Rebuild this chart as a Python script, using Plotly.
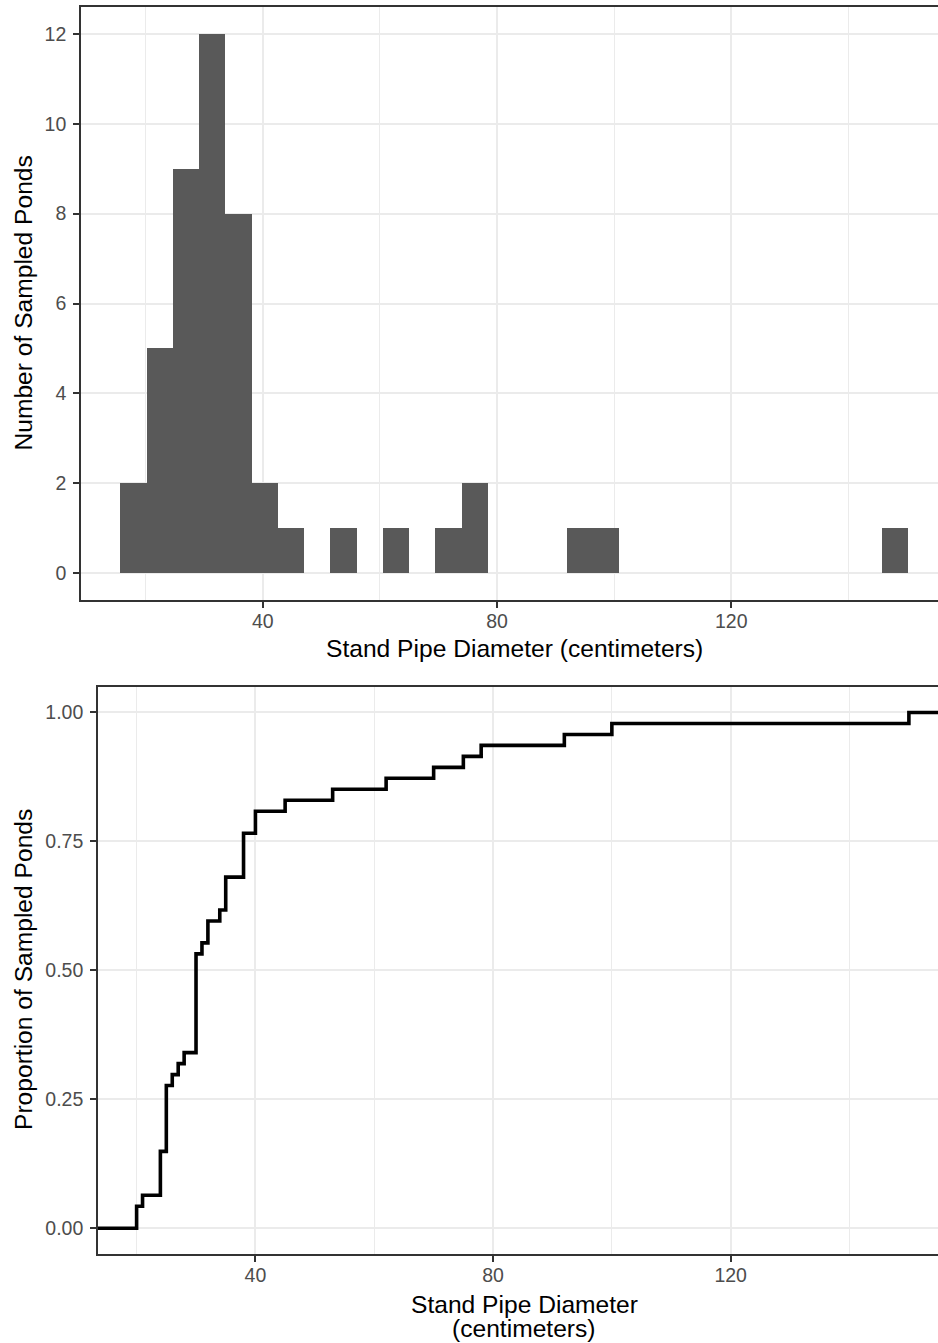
import numpy as np
import plotly.graph_objects as go

# ---- data (stand pipe diameters, cm) ----
diameters = [20, 20, 21, 24, 24, 24, 24,
             25, 25, 25, 25, 25, 25, 26, 27, 28,
             30, 30, 30, 30, 30, 30, 30, 30, 30, 31, 32, 32,
             34, 35, 35, 35, 38, 38, 38, 38, 40, 40,
             45, 53, 62, 70, 75, 78, 92, 100, 150]

hist_xticks = [40, 80, 120]
hist_yticks = [0, 2, 4, 6, 8, 10, 12]
ecdf_xticks = [40, 80, 120]
ecdf_yticks = [0, 0.25, 0.5, 0.75, 1.0]
ecdf_yticktext = ["0.00", "0.25", "0.50", "0.75", "1.00"]
minor_x = [20, 60, 100, 140]

x_title = "Stand Pipe Diameter (centimeters)"
hist_ytitle = "Number of Sampled Ponds"
ecdf_ytitle = "Proportion of Sampled Ponds"

# ---- ggplot-like binning (bins = 30) ----
vals = np.array(diameters, dtype=float)
n_bins = 30
bw = (vals.max() - vals.min()) / (n_bins - 1)
boundary = bw / 2
start = boundary + np.floor((vals.min() - boundary) / bw) * bw
end = start + np.ceil((vals.max() - start) / bw) * bw

# ---- ECDF ----
ux, counts = np.unique(vals, return_counts=True)
cum = np.cumsum(counts) / len(vals)
X1_RANGE = [8.97, 155.3]
X2_RANGE = [13.5, 154.9]
ex = [X2_RANGE[0]] + list(ux) + [X2_RANGE[1]]
ey = [0.0] + list(cum) + [1.0]

W, H = 938, 1343
FONT = "Liberation Sans, Arial, sans-serif"
GRID = "#EBEBEB"
AX = "#333333"
TICKF = dict(family=FONT, size=19.5, color="#4D4D4D")

fig = go.Figure()
fig.add_trace(go.Histogram(
    x=diameters, xbins=dict(start=start, end=end, size=bw),
    marker=dict(color="#595959", line=dict(width=0)),
    xaxis="x", yaxis="y", hoverinfo="skip"))
fig.add_trace(go.Scatter(
    x=ex, y=ey, mode="lines", line=dict(color="black", width=3.6, shape="hv"),
    xaxis="x2", yaxis="y2", hoverinfo="skip"))

def px_x(p):
    return p / W

def px_y(p):
    return 1 - p / H

common_x = dict(ticks="outside", ticklen=6, tickwidth=1.6, tickcolor=AX,
                showline=True, linecolor=AX, linewidth=1.6, mirror=True,
                showgrid=True, gridcolor=GRID, gridwidth=1.8, zeroline=False,
                tickfont=TICKF, tickmode="array", ticklabelstandoff=-3,
                minor=dict(tickvals=minor_x, showgrid=True, gridcolor=GRID,
                           gridwidth=1.0, ticks=""))
common_y = dict(ticks="outside", ticklen=6, tickwidth=1.6, tickcolor=AX,
                showline=True, linecolor=AX, linewidth=1.6, mirror=False,
                showgrid=True, gridcolor=GRID, gridwidth=1.8, zeroline=False,
                tickfont=TICKF, tickmode="array", ticklabelstandoff=3)

fig.update_layout(
    width=W, height=H, margin=dict(l=0, r=0, t=0, b=0),
    paper_bgcolor="white", plot_bgcolor="white", showlegend=False,
    bargap=0,
    xaxis=dict(common_x, domain=[px_x(81), 1], range=X1_RANGE,
               tickvals=hist_xticks, anchor="y"),
    yaxis=dict(common_y, domain=[px_y(600), px_y(7)], range=[-0.6, 12.6],
               tickvals=hist_yticks, anchor="x"),
    xaxis2=dict(common_x, domain=[px_x(98), 1], range=X2_RANGE,
                tickvals=ecdf_xticks, anchor="y2"),
    yaxis2=dict(common_y, domain=[px_y(1254), px_y(686.7)], range=[-0.05, 1.05],
                tickvals=ecdf_yticks, ticktext=ecdf_yticktext, anchor="x2"),
)

TF = dict(family=FONT, size=24.6, color="black")
ann = [
    dict(text=x_title, x=px_x(514), y=px_y(649), xanchor="center", yanchor="middle"),
    dict(text="Stand Pipe Diameter", x=px_x(524), y=px_y(1304), xanchor="center", yanchor="middle"),
    dict(text="(centimeters)", x=px_x(524), y=px_y(1328), xanchor="center", yanchor="middle"),
    dict(text=hist_ytitle, x=px_x(23), y=px_y(303.5), xanchor="center", yanchor="middle", textangle=-90),
    dict(text=ecdf_ytitle, x=px_x(23), y=px_y(970), xanchor="center", yanchor="middle", textangle=-90),
]
for a in ann:
    fig.add_annotation(xref="paper", yref="paper", showarrow=False, font=TF, **a)

fig.write_html(
    "out.html",
    config={"displayModeBar": False},
    post_script="document.body.style.margin='0';document.body.style.overflow='hidden';",
)
